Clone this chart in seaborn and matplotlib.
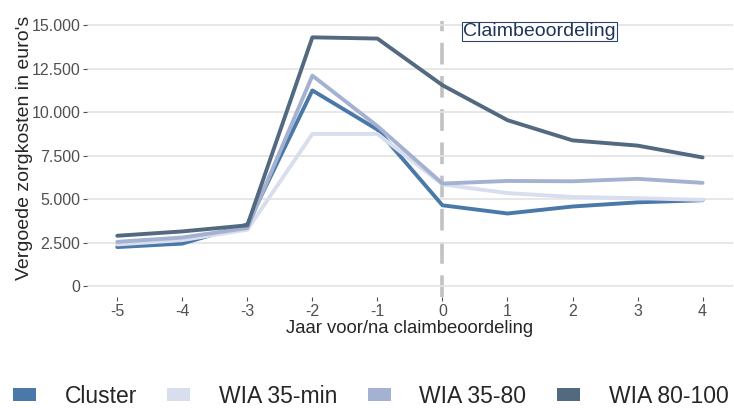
import seaborn as sns
import matplotlib.pyplot as plt
import pandas as pd
from matplotlib.patches import Patch
from matplotlib.ticker import FuncFormatter

years = [-5, -4, -3, -2, -1, 0, 1, 2, 3, 4]
groups = ["Cluster", "WIA 35-min", "WIA 35-80", "WIA 80-100"]
cluster = [2250, 2450, 3550, 11250, 9000, 4650, 4180, 4580, 4820, 4940]
wia_35_min = [2400, 2650, 3250, 8750, 8750, 5850, 5350, 5130, 5060, 4960]
wia_35_80 = [2550, 2800, 3350, 12100, 9200, 5900, 6050, 6030, 6170, 5940]
wia_80_100 = [2900, 3150, 3500, 14300, 14230, 11550, 9540, 8380, 8080, 7400]
colors = ["#4a78a8", "#d9deee", "#a4b1d1", "#52697f"]

data = pd.DataFrame({
    "jaar": years * 4,
    "kosten": cluster + wia_35_min + wia_35_80 + wia_80_100,
    "groep": [g for g in groups for _ in years],
})

sns.set_style("white")
plt.rcParams['font.family'] = ['Liberation Sans', 'DejaVu Sans']
plt.rcParams['axes.unicode_minus'] = False

fig = plt.figure(figsize=(7.34, 4.08), dpi=100)
ax = fig.add_axes([0.119, 0.272, 0.879, 0.677])

sns.lineplot(data=data, x="jaar", y="kosten", hue="groep", hue_order=groups,
             palette=colors, linewidth=2.8, ax=ax, legend=False)

ax.axvline(0, color="#c2c2c2", linewidth=2.6, linestyle=(0, (6, 3.2)), zorder=0.5)
ax.text(0.32, 14650, "Claimbeoordeling", fontsize=14, color="#1f3556",
        va="center", ha="left",
        bbox=dict(boxstyle="square,pad=0.05", facecolor="white",
                  edgecolor="#2b4468", linewidth=0.8))

ax.set_xlim(-5.46, 4.46)
ax.set_ylim(-620, 15250)
ax.set_xticks(years)
ax.set_yticks([0, 2500, 5000, 7500, 10000, 12500, 15000])
ax.yaxis.set_major_formatter(FuncFormatter(lambda v, p: f"{int(v):,}".replace(",", ".")))
ax.yaxis.grid(True, color="#e3e3e3", linewidth=1.2)
ax.set_axisbelow(True)
sns.despine(ax=ax, left=True, bottom=True, top=True, right=True)
ax.tick_params(axis="both", labelsize=11.5, labelcolor="#505050", color="#505050",
               length=3, width=0.8, left=True, bottom=True, pad=2)
ax.set_xlabel("Jaar voor/na claimbeoordeling", fontsize=13.3, labelpad=1)
ax.set_ylabel("Vergoede zorgkosten in euro's", fontsize=14)
ax.yaxis.set_label_coords(-0.084, 0.54)

handles = [Patch(facecolor=c, edgecolor="none", label=g) for g, c in zip(groups, colors)]
fig.legend(handles=handles, loc="lower center", bbox_to_anchor=(0.505, -0.05), ncol=4,
           frameon=False, fontsize=16.5, handlelength=1.0, handleheight=0.48,
           columnspacing=1.33, handletextpad=1.25)

fig.savefig("out.png", dpi=100)
